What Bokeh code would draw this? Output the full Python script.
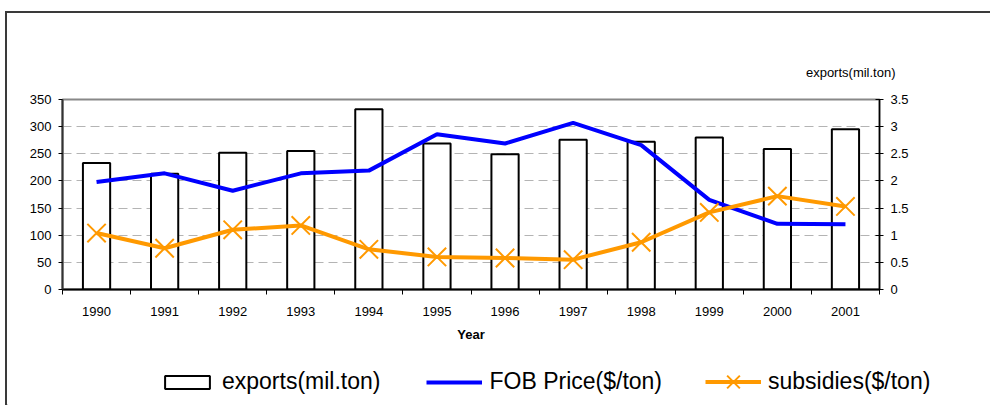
from bokeh.plotting import figure
from bokeh.layouts import column
from bokeh.models import (Range1d, LinearAxis, FixedTicker, NumeralTickFormatter,
                          Title, Legend, LegendItem)
from bokeh.embed import file_html
from bokeh.resources import INLINE

years = [1990, 1991, 1992, 1993, 1994, 1995, 1996, 1997, 1998, 1999, 2000, 2001]
exports = [2.33, 2.13, 2.52, 2.55, 3.32, 2.69, 2.49, 2.76, 2.72, 2.80, 2.59, 2.95]
fob_price = [198, 214, 182, 214, 219, 286, 269, 307, 266, 165, 121, 120]
subsidies = [104, 76, 110, 118, 74, 60, 58, 55, 87, 142, 172, 153]
left_ticks = [0, 50, 100, 150, 200, 250, 300, 350]
right_ticks = [0, 0.5, 1, 1.5, 2, 2.5, 3, 3.5]
series_names = ["exports(mil.ton)", "FOB Price($/ton)", "subsidies($/ton)"]

FONT = "Liberation Sans"
BLUE = "#0000ff"
ORANGE = "#ff9900"

p = figure(width=983, height=335, output_backend="svg", toolbar_location=None,
           x_range=Range1d(years[0] - 0.5, years[-1] + 0.5),
           y_range=Range1d(0, 350),
           min_border_left=55, min_border_right=111, min_border_top=86, min_border_bottom=59)
p.frame_align = False
p.extra_y_ranges = {"right": Range1d(0, 3.5)}
p.background_fill_color = "white"
p.border_fill_color = "white"
p.outline_line_color = "#888888"
p.outline_line_width = 2

# grid
p.xgrid.grid_line_color = None
p.ygrid.ticker = FixedTicker(ticks=left_ticks[1:-1])
p.ygrid.grid_line_color = "#b4b4b4"
p.ygrid.grid_line_dash = "9 5"
p.ygrid.grid_line_width = 1

# bottom axis
xa = p.xaxis[0]
xa.ticker = FixedTicker(ticks=years, minor_ticks=[y - 0.5 for y in years] + [years[-1] + 0.5])
xa.major_tick_out = 0
xa.major_tick_in = 0
xa.minor_tick_out = 5
xa.minor_tick_in = 0
xa.minor_tick_line_color = "black"
xa.minor_tick_line_width = 1
xa.axis_line_color = "black"
xa.axis_line_width = 2
xa.major_label_text_font = FONT
xa.major_label_text_font_size = "13px"
xa.major_label_text_color = "black"
xa.major_label_standoff = 12
xa.axis_label = "Year"
xa.axis_label_text_font = FONT
xa.axis_label_text_font_size = "13px"
xa.axis_label_text_font_style = "bold"
xa.axis_label_text_color = "black"
xa.axis_label_standoff = 8

# left axis
ya = p.yaxis[0]
ya.ticker = FixedTicker(ticks=left_ticks)
ya.major_tick_out = 4
ya.major_tick_in = 0
ya.minor_tick_line_color = None
ya.axis_line_color = "#333333"
ya.axis_line_width = 2
ya.major_label_text_font = FONT
ya.major_label_text_font_size = "13px"
ya.major_label_text_color = "black"
ya.major_label_standoff = 7

# right axis
ra = LinearAxis(y_range_name="right", ticker=FixedTicker(ticks=right_ticks),
                formatter=NumeralTickFormatter(format="0.[0]"))
ra.major_tick_out = 4
ra.major_tick_in = 4
ra.minor_tick_line_color = None
ra.axis_line_color = "black"
ra.axis_line_width = 1.5
ra.major_label_text_font = FONT
ra.major_label_text_font_size = "13px"
ra.major_label_text_color = "black"
ra.major_label_standoff = 7
p.add_layout(ra, "right")

# glyphs
p.vbar(x=years, top=exports, width=0.4, y_range_name="right",
       fill_color="white", line_color="black", line_width=2)
p.line(x=years, y=fob_price, line_color=BLUE, line_width=4)
p.line(x=years, y=subsidies, line_color=ORANGE, line_width=4)
p.scatter(x=years, y=subsidies, marker="x", size=26, line_color=ORANGE, line_width=2)

# right axis title, above the frame
p.add_layout(Title(text=series_names[0], align="right", vertical_align="bottom",
                   offset=-16, standoff=40, text_font=FONT, text_font_size="13px",
                   text_font_style="normal", text_color="black"), "above")

# legend strip below the chart (dummy renderers sit far outside its visible range)
lg = figure(width=983, height=57, output_backend="svg", toolbar_location=None,
            x_range=Range1d(0, 1), y_range=Range1d(0, 1),
            x_axis_location=None, y_axis_location=None,
            min_border_left=0, min_border_right=0, min_border_top=0, min_border_bottom=0)
lg.frame_align = False
lg.outline_line_color = None
lg.grid.grid_line_color = None
lg.background_fill_color = "white"
lg.border_fill_color = "white"
r_bar = lg.vbar(x=[-1000], top=[-1000], bottom=[-1001], width=0.4,
                fill_color="white", line_color="black", line_width=2)
r_fob = lg.line(x=[-1000, -999], y=[-1000, -1000], line_color=BLUE, line_width=4)
r_sub = lg.line(x=[-1000, -999], y=[-1000, -1000], line_color=ORANGE, line_width=4)
r_subx = lg.scatter(x=[-1000], y=[-1000], marker="x", size=18, line_color=ORANGE, line_width=2)

def style(leg):
    leg.orientation = "horizontal"
    leg.label_text_font = FONT
    leg.label_text_font_size = "23px"
    leg.label_text_color = "black"
    leg.glyph_width = 56
    leg.label_standoff = 7
    leg.spacing = 46
    leg.padding = 0
    leg.margin = 0
    leg.border_line_color = None
    leg.background_fill_alpha = 0

leg1 = Legend(items=[
    LegendItem(label=series_names[0], renderers=[r_bar]),
    LegendItem(label=series_names[1], renderers=[r_fob]),
], location=(152, 10))
style(leg1)
leg1.glyph_height = 16
lg.add_layout(leg1, "center")

leg2 = Legend(items=[
    LegendItem(label=series_names[2], renderers=[r_sub, r_subx]),
], location=(698, 1))
style(leg2)
leg2.glyph_height = 45
lg.add_layout(leg2, "center")

page = column(p, lg, spacing=0)
page.styles = {"margin-left": "5px", "margin-top": "11px",
               "border-left": "2px solid #3a3a3a", "border-top": "2px solid #3a3a3a"}

open("out.html", "w").write(file_html(page, INLINE))
